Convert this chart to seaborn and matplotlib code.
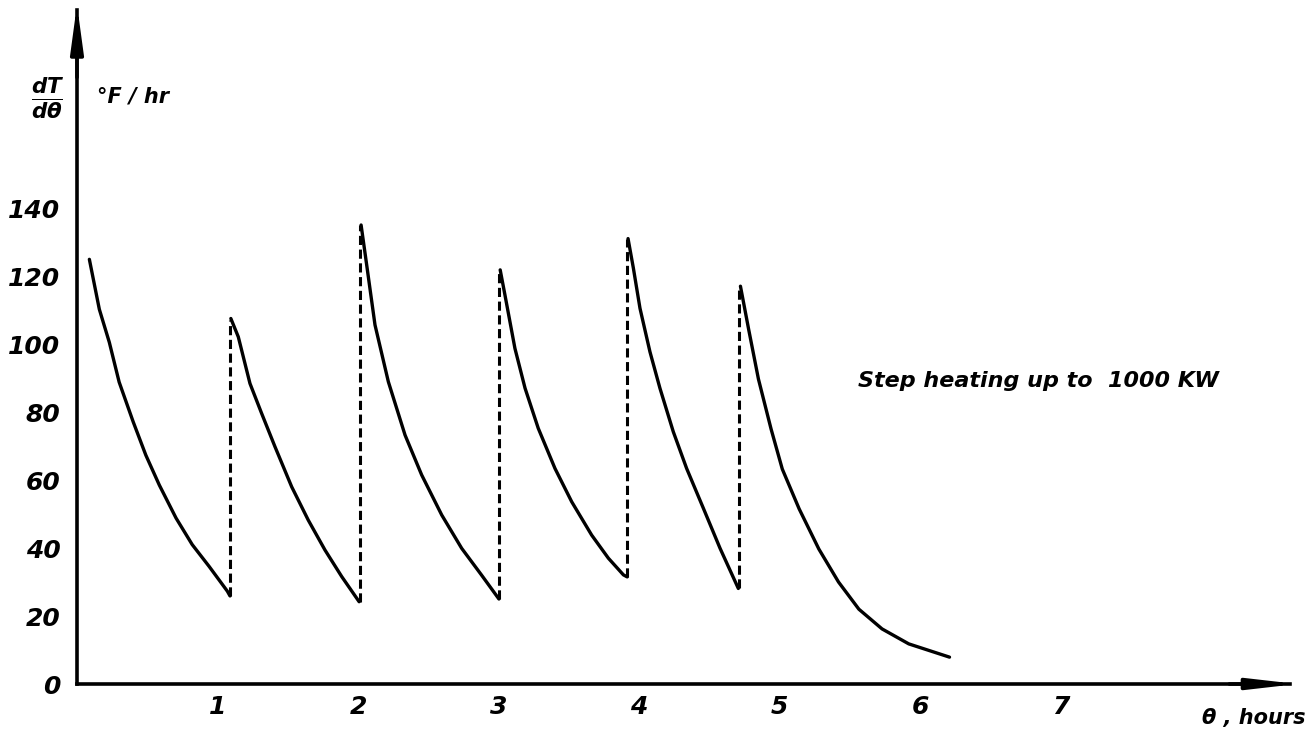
import matplotlib
matplotlib.use("Agg")
import matplotlib.pyplot as plt
import seaborn as sns
import pandas as pd

# ---- data ----
seg1_t = [0.088, 0.159, 0.23, 0.30, 0.40, 0.49, 0.586, 0.705, 0.82, 0.94, 1.07, 1.089]
seg1_v = [124.9, 110.2, 100.5, 88.8, 77.1, 67.3, 58.5, 48.8, 41.0, 34.6, 27.3, 25.9]

seg2_t = [1.095, 1.148, 1.231, 1.314, 1.409, 1.528, 1.646, 1.765, 1.884, 2.008]
seg2_v = [107.5, 102.1, 88.4, 79.6, 69.8, 58.0, 48.2, 39.4, 31.6, 24.2]

seg3_t = [2.022, 2.062, 2.121, 2.216, 2.335, 2.453, 2.596, 2.738, 2.880, 3.003]
seg3_v = [135.0, 123.2, 105.6, 88.9, 73.2, 61.5, 49.7, 39.9, 32.0, 25.0]

seg4_t = [3.012, 3.046, 3.117, 3.189, 3.283, 3.402, 3.521, 3.663, 3.782, 3.889, 3.916]
seg4_v = [121.8, 114.4, 98.7, 87.0, 75.2, 63.4, 53.6, 43.8, 37.0, 32.1, 31.5]

seg5_t = [3.922, 3.96, 4.007, 4.078, 4.149, 4.244, 4.339, 4.458, 4.577, 4.707]
seg5_v = [131.0, 122.3, 110.5, 97.7, 87.0, 74.2, 63.4, 51.7, 39.9, 28.1]

seg6_t = [4.722, 4.78, 4.85, 4.94, 5.02, 5.14, 5.28, 5.42, 5.565, 5.73, 5.92, 6.21]
seg6_v = [117.0, 104.4, 89.7, 75.0, 63.2, 51.5, 39.7, 30.0, 22.0, 16.2, 11.8, 7.9]

jump_t = [1.089, 2.015, 3.007, 3.918, 4.709]
jump_low = [25.9, 24.2, 25.0, 31.5, 28.1]
jump_high = [107.0, 135.0, 121.8, 131.0, 117.0]

x_ticks = [1, 2, 3, 4, 5, 6, 7]
y_ticks = [0, 20, 40, 60, 80, 100, 120, 140]
annotation = "Step heating up to  1000 KW"

# ---- tables ----
segs = [(seg1_t, seg1_v), (seg2_t, seg2_v), (seg3_t, seg3_v),
        (seg4_t, seg4_v), (seg5_t, seg5_v), (seg6_t, seg6_v)]
rows = []
for i, (ts, vs) in enumerate(segs):
    for t, v in zip(ts, vs):
        rows.append({"t": t, "v": v, "seg": i})
df = pd.DataFrame(rows)

jrows = []
for i, (t, lo, hi) in enumerate(zip(jump_t, jump_low, jump_high)):
    jrows.append({"t": t, "v": lo, "jump": i})
    jrows.append({"t": t, "v": hi, "jump": i})
dj = pd.DataFrame(jrows)

# ---- style ----
sns.set_style("white")
plt.rcParams["font.family"] = ["DejaVu Sans"]
plt.rcParams["text.color"] = "black"
plt.rcParams["xtick.color"] = "black"
plt.rcParams["ytick.color"] = "black"
plt.rcParams["mathtext.fontset"] = "custom"
plt.rcParams["mathtext.it"] = "DejaVu Sans:italic:bold"
plt.rcParams["mathtext.rm"] = "DejaVu Sans:bold"

W, H = 1315, 738
fig = plt.figure(figsize=(W / 100, H / 100), dpi=100)
x0, y0, x1, y1 = 77, 684, 1290, 10
ax = fig.add_axes([x0 / W, (H - y0) / H, (x1 - x0) / W, (y0 - y1) / H])

sns.lineplot(data=df, x="t", y="v", units="seg", estimator=None, sort=False,
             color="black", lw=2.4, ax=ax, legend=False)
sns.lineplot(data=dj, x="t", y="v", units="jump", estimator=None, sort=False,
             color="black", lw=2.2, ax=ax, legend=False)
for line in ax.get_lines()[6:]:
    line.set_linestyle((0, (3.0, 1.5)))
for line in ax.get_lines():
    line.set_solid_capstyle("round")
    line.set_solid_joinstyle("round")

ax.set_xlim(0, (x1 - x0) / 140.5)
ax.set_ylim(0, (y0 - y1) / 3.4)

for s in ["top", "right"]:
    ax.spines[s].set_visible(False)
for s in ["left", "bottom"]:
    ax.spines[s].set_linewidth(2.6)
    ax.spines[s].set_color("black")

ax.set_xticks(x_ticks)
ax.set_yticks(y_ticks)
tick_font = dict(fontsize=18, fontstyle="italic", fontweight="bold", color="black")
ax.set_xticklabels([str(v) for v in x_ticks], **tick_font)
ax.set_yticklabels([str(v) for v in y_ticks], **tick_font)
ax.tick_params(axis="both", direction="in", length=5, width=2, color="black")
ax.tick_params(axis="y", pad=12)
ax.tick_params(axis="x", pad=8)
ax.set_xlabel("")
ax.set_ylabel("")

# arrow heads on the axes
ax.annotate("", xy=(1.006, 0), xytext=(0.95, 0), xycoords="axes fraction",
            arrowprops=dict(arrowstyle="-|>,head_length=2.8,head_width=0.32",
                            color="black", lw=2.6, shrinkA=0, shrinkB=0),
            annotation_clip=False)
ax.annotate("", xy=(0, 1.008), xytext=(0, 0.9), xycoords="axes fraction",
            arrowprops=dict(arrowstyle="-|>,head_length=2.8,head_width=0.38",
                            color="black", lw=2.6, shrinkA=0, shrinkB=0),
            annotation_clip=False)

# texts
ax.text((858 - x0) / 140.5, (y0 - 381) / 3.4, annotation, fontsize=16,
        fontstyle="italic", fontweight="bold", ha="left", va="center")
fig.text(48 / W, 1 - 98 / H, r"$\frac{dT}{d\theta}$", fontsize=22,
         ha="center", va="center")
fig.text(97 / W, 1 - 96 / H, "°F / hr", fontsize=15, fontstyle="italic",
         fontweight="bold", ha="left", va="center")
fig.text(1305 / W, 1 - 718 / H, "θ , hours", fontsize=15, fontstyle="italic",
         fontweight="bold", ha="right", va="center")

fig.savefig("out.png", dpi=100)
